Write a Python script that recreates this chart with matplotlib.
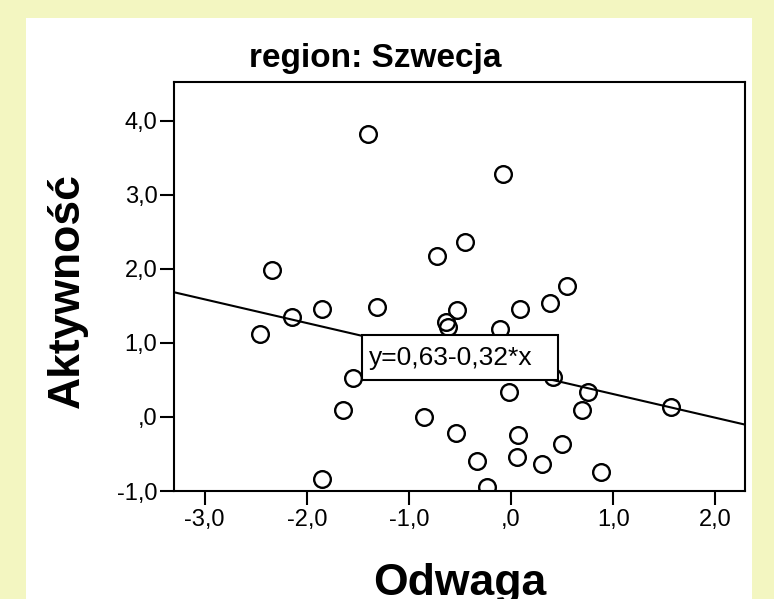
import matplotlib
matplotlib.use('Agg')
import matplotlib.pyplot as plt
from matplotlib.patches import Rectangle
from matplotlib.ticker import FuncFormatter
import numpy as np

plt.rcParams['font.family'] = ['Liberation Sans', 'DejaVu Sans']

# data (Odwaga vs Aktywnosc, region Szwecja)
odwaga = [-1.40, -0.08, -2.34, -0.73, -0.45, 0.55, 0.38, -2.46, -2.14, -1.85,
          -1.31, -0.64, -0.62, -0.53, 0.09, -0.11, -1.55, 0.41, -0.02, 0.75,
          -1.65, -0.85, 0.69, 1.57, -0.54, 0.07, 0.50, 0.06, -0.33, 0.30,
          0.88, -1.85, -0.24]
aktywnosc = [3.82, 3.29, 1.98, 2.17, 2.36, 1.77, 1.54, 1.12, 1.35, 1.46,
             1.48, 1.28, 1.22, 1.44, 1.46, 1.19, 0.53, 0.54, 0.34, 0.34,
             0.09, 0.00, 0.09, 0.14, -0.22, -0.25, -0.36, -0.54, -0.59, -0.63,
             -0.75, -0.84, -0.94]
intercept = 0.63
slope = -0.32
x_ticks = [-3, -2, -1, 0, 1, 2]
y_ticks = [-1, 0, 1, 2, 3, 4]

W, H = 774, 599
fig = plt.figure(figsize=(W / 100, H / 100), dpi=100)
fig.patch.set_facecolor('#F3F6C1')

# white panel behind everything
fig.patches.append(Rectangle((26 / W, 0), (752 - 26) / W, 1 - 18 / H,
                             transform=fig.transFigure, facecolor='white',
                             edgecolor='none', zorder=-10))

ax = fig.add_axes([174 / W, 1 - 491 / H, (745 - 174) / W, (491 - 82) / H])
ax.set_zorder(1)
ax.set_facecolor('white')

ax.plot(odwaga, aktywnosc, linestyle='none', marker='o', markersize=12,
        markerfacecolor='none', markeredgecolor='black', markeredgewidth=1.7,
        zorder=3)

xl = np.array([-3.30, 2.29])
ax.plot(xl, intercept + slope * xl, color='black', linewidth=1.5, zorder=2)

ax.set_xlim(-3.30, 2.29)
ax.set_ylim(-1.0, 4.527)
ax.set_xticks(x_ticks)
ax.set_yticks(y_ticks)


def fmt(v, pos):
    s = f'{v:.1f}'.replace('.', ',')
    if s in ('0,0', '-0,0'):
        s = ',0'
    return s


ax.xaxis.set_major_formatter(FuncFormatter(fmt))
ax.yaxis.set_major_formatter(FuncFormatter(fmt))
ax.tick_params(axis='both', direction='out', length=10, width=1.5,
               labelsize=17, colors='black')
ax.tick_params(axis='x', pad=3)
ax.tick_params(axis='y', pad=2)
for sp in ax.spines.values():
    sp.set_linewidth(1.5)

# equation box
ax.add_patch(Rectangle((0.330, 0.271), (558 - 362.7) / 571, 0.110,
                       transform=ax.transAxes, facecolor='white',
                       edgecolor='black', linewidth=1.5, zorder=4))
ax.text(0.341, 0.326, 'y=0,63-0,32*x', transform=ax.transAxes,
        fontsize=19, ha='left', va='center', zorder=5)

fig.text(375 / W, 1 - 67 / H, 'region: Szwecja', fontsize=24,
         fontweight='bold', ha='center', va='baseline')

ax.set_xlabel('Odwaga', fontsize=32, fontweight='bold')
ax.xaxis.label.set_va('baseline')
ax.xaxis.set_label_coords(0.5, -0.254)
ax.set_ylabel('Aktywność', fontsize=32, fontweight='bold')
ax.yaxis.set_label_coords(-0.151, 0.491)

fig.savefig('out.png', dpi=100, facecolor=fig.get_facecolor())
